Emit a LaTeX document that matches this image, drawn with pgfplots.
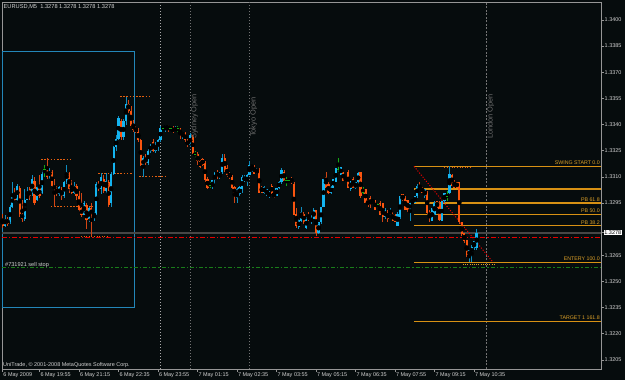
\documentclass[border=0pt]{standalone}
\usepackage{fontspec}
\setmainfont{Liberation Sans}
\usepackage{pgfplots}
\usepackage{pgfplotstable}
\pgfplotsset{compat=1.18}
\definecolor{bgc}{RGB}{6,12,13}
\definecolor{framec}{RGB}{150,150,150}
\definecolor{tickc}{RGB}{210,210,210}
\definecolor{bullc}{RGB}{20,180,240}
\definecolor{bearc}{RGB}{250,85,15}
\definecolor{bullw}{RGB}{15,140,190}
\definecolor{bearw}{RGB}{210,70,20}
\definecolor{dojic}{RGB}{20,170,20}
\definecolor{fibc}{RGB}{215,145,20}
\definecolor{fibt}{RGB}{220,160,40}
\definecolor{fracc}{RGB}{225,95,15}
\definecolor{boxc}{RGB}{35,135,185}
\definecolor{bidc}{RGB}{70,70,70}
\definecolor{slc}{RGB}{230,0,0}
\definecolor{pendc}{RGB}{25,125,25}
\definecolor{vlc}{RGB}{115,115,115}
\definecolor{sepc}{RGB}{170,170,170}
\definecolor{vtxt}{RGB}{110,110,110}

\pgfplotstableread{
i o h l c
0 1.3286 1.3289 1.3281 1.3282
1 1.3282 1.3288 1.3281 1.3286
2 1.3286 1.3287 1.3282 1.3283
3 1.3284 1.3294 1.3283 1.3293
4 1.3293 1.3307 1.3292 1.3300
5 1.3300 1.3304 1.3296 1.3297
6 1.3297 1.3306 1.3296 1.3305
7 1.3304 1.3305 1.3287 1.3289
8 1.3289 1.3297 1.3284 1.3286
9 1.3286 1.3303 1.3285 1.3297
10 1.3297 1.3304 1.3297 1.3300
11 1.3303 1.3304 1.3297 1.3299
12 1.3300 1.3311 1.3299 1.3309
13 1.3308 1.3310 1.3294 1.3295
14 1.3297 1.3305 1.3296 1.3304
15 1.3304 1.3311 1.3298 1.3299
16 1.3301 1.3314 1.3300 1.3312
17 1.3314 1.3317 1.3310 1.3314
18 1.3314 1.3321 1.3309 1.3310
19 1.3311 1.3315 1.3309 1.3313
20 1.3313 1.3314 1.3304 1.3305
21 1.3305 1.3309 1.3293 1.3303
22 1.3303 1.3305 1.3299 1.3300
23 1.3300 1.3305 1.3299 1.3304
24 1.3303 1.3304 1.3297 1.3299
25 1.3299 1.3308 1.3298 1.3307
26 1.3307 1.3317 1.3306 1.3313
27 1.3312 1.3313 1.3301 1.3303
28 1.3304 1.3308 1.3300 1.3301
29 1.3301 1.3307 1.3300 1.3305
30 1.3305 1.3306 1.3297 1.3299
31 1.3299 1.3302 1.3290 1.3291
32 1.3292 1.3301 1.3287 1.3288
33 1.3288 1.3296 1.3288 1.3295
34 1.3294 1.3295 1.3280 1.3285
35 1.3286 1.3293 1.3284 1.3292
36 1.3292 1.3295 1.3276 1.3288
37 1.3288 1.3290 1.3285 1.3289
38 1.3289 1.3307 1.3288 1.3306
39 1.3306 1.3308 1.3302 1.3303
40 1.3303 1.3312 1.3300 1.3310
41 1.3309 1.3311 1.3301 1.3302
42 1.3302 1.3312 1.3300 1.3308
43 1.3307 1.3308 1.3293 1.3294
44 1.3295 1.3313 1.3293 1.3312
45 1.3312 1.3328 1.3311 1.3327
46 1.3327 1.3334 1.3325 1.3332
47 1.3332 1.3345 1.3331 1.3344
48 1.3342 1.3343 1.3331 1.3333
49 1.3333 1.3343 1.3331 1.3342
50 1.3342 1.3356 1.3340 1.3352
51 1.3352 1.3354 1.3347 1.3348
52 1.3348 1.3351 1.3338 1.3339
53 1.3340 1.3343 1.3336 1.3337
54 1.3338 1.3339 1.3335 1.3336
55 1.3336 1.3338 1.3330 1.3331
56 1.3331 1.3332 1.3316 1.3317
57 1.3316 1.3322 1.3310 1.3321
58 1.3321 1.3323 1.3317 1.3318
59 1.3318 1.3326 1.3317 1.3325
60 1.3325 1.3329 1.3324 1.3328
61 1.3330 1.3332 1.3324 1.3325
62 1.3325 1.3330 1.3324 1.3328
63 1.3327 1.3332 1.3325 1.3331
64 1.3331 1.3339 1.3330 1.3338
65 1.3338 1.3339 1.3337 1.3338
66 1.3338 1.3340 1.3336 1.3339
67 1.3339 1.3340 1.3336 1.3338
68 1.3338 1.3339 1.3337 1.3338
69 1.3338 1.3339 1.3335 1.3336
70 1.3336 1.3339 1.3336 1.3338
71 1.3338 1.3339 1.3336 1.3338
72 1.3338 1.3338 1.3332 1.3334
73 1.3334 1.3336 1.3332 1.3335
74 1.3335 1.3336 1.3330 1.3331
75 1.3331 1.3332 1.3327 1.3328
76 1.3328 1.3335 1.3327 1.3334
77 1.3333 1.3334 1.3323 1.3324
78 1.3323 1.3325 1.3321 1.3323
79 1.3323 1.3324 1.3317 1.3319
80 1.3319 1.3320 1.3315 1.3316
81 1.3320 1.3321 1.3316 1.3317
82 1.3318 1.3319 1.3307 1.3308
83 1.3309 1.3310 1.3303 1.3304
84 1.3305 1.3307 1.3304 1.3305
85 1.3304 1.3308 1.3303 1.3308
86 1.3308 1.3313 1.3306 1.3312
87 1.3313 1.3314 1.3309 1.3310
88 1.3310 1.3313 1.3309 1.3312
89 1.3313 1.3323 1.3312 1.3321
90 1.3321 1.3323 1.3313 1.3314
91 1.3315 1.3317 1.3310 1.3311
92 1.3312 1.3313 1.3309 1.3310
93 1.3310 1.3311 1.3303 1.3304
94 1.3304 1.3305 1.3295 1.3300
95 1.3298 1.3304 1.3295 1.3303
96 1.3300 1.3305 1.3299 1.3304
97 1.3303 1.3311 1.3301 1.3310
98 1.3308 1.3311 1.3307 1.3310
99 1.3307 1.3312 1.3305 1.3311
100 1.3311 1.3319 1.3311 1.3317
101 1.3315 1.3317 1.3313 1.3317
102 1.3316 1.3317 1.3312 1.3312
103 1.3312 1.3315 1.3312 1.3314
104 1.3314 1.3315 1.3301 1.3301
105 1.3304 1.3305 1.3301 1.3301
106 1.3301 1.3305 1.3300 1.3304
107 1.3300 1.3303 1.3299 1.3303
108 1.3299 1.3302 1.3298 1.3301
109 1.3305 1.3306 1.3300 1.3301
110 1.3301 1.3301 1.3298 1.3299
111 1.3299 1.3304 1.3299 1.3304
112 1.3304 1.3308 1.3303 1.3307
113 1.3307 1.3315 1.3306 1.3314
114 1.3313 1.3314 1.3308 1.3308
115 1.3308 1.3310 1.3305 1.3308
116 1.3308 1.3309 1.3307 1.3308
117 1.3309 1.3310 1.3306 1.3307
118 1.3306 1.3307 1.3288 1.3288
119 1.3289 1.3292 1.3281 1.3282
120 1.3281 1.3286 1.3280 1.3285
121 1.3285 1.3293 1.3284 1.3290
122 1.3289 1.3290 1.3283 1.3284
123 1.3281 1.3287 1.3280 1.3286
124 1.3288 1.3290 1.3285 1.3285
125 1.3284 1.3288 1.3283 1.3287
126 1.3286 1.3292 1.3286 1.3291
127 1.3291 1.3291 1.3276 1.3278
128 1.3278 1.3284 1.3277 1.3284
129 1.3284 1.3293 1.3283 1.3293
130 1.3293 1.3309 1.3293 1.3309
131 1.3310 1.3313 1.3304 1.3304
132 1.3306 1.3307 1.3300 1.3301
133 1.3301 1.3305 1.3300 1.3304
134 1.3304 1.3309 1.3304 1.3309
135 1.3307 1.3315 1.3307 1.3315
136 1.3314 1.3321 1.3313 1.3314
137 1.3311 1.3316 1.3311 1.3316
138 1.3313 1.3313 1.3308 1.3308
139 1.3308 1.3310 1.3307 1.3310
140 1.3313 1.3314 1.3304 1.3304
141 1.3303 1.3308 1.3302 1.3308
142 1.3309 1.3310 1.3304 1.3304
143 1.3304 1.3307 1.3303 1.3307
144 1.3307 1.3313 1.3306 1.3312
145 1.3313 1.3313 1.3298 1.3299
146 1.3301 1.3304 1.3300 1.3301
147 1.3303 1.3303 1.3295 1.3295
148 1.3297 1.3297 1.3293 1.3294
149 1.3298 1.3299 1.3292 1.3294
150 1.3297 1.3297 1.3295 1.3295
151 1.3297 1.3297 1.3291 1.3291
152 1.3294 1.3295 1.3292 1.3294
153 1.3295 1.3296 1.3288 1.3288
154 1.3295 1.3295 1.3284 1.3287
155 1.3287 1.3292 1.3286 1.3291
156 1.3290 1.3291 1.3284 1.3286
157 1.3288 1.3292 1.3288 1.3291
158 1.3289 1.3290 1.3285 1.3285
159 1.3288 1.3289 1.3284 1.3284
160 1.3282 1.3290 1.3282 1.3289
161 1.3287 1.3299 1.3286 1.3299
162 1.3300 1.3300 1.3296 1.3297
163 1.3298 1.3299 1.3291 1.3291
164 1.3297 1.3297 1.3290 1.3291
165 1.3291 1.3296 1.3285 1.3295
166 1.3295 1.3297 1.3295 1.3297
167 1.3295 1.3299 1.3295 1.3299
168 1.3299 1.3306 1.3298 1.3305
169 1.3304 1.3307 1.3302 1.3303
170 1.3304 1.3304 1.3301 1.3301
171 1.3299 1.3303 1.3298 1.3303
172 1.3301 1.3302 1.3289 1.3289
173 1.3290 1.3291 1.3284 1.3287
174 1.3285 1.3292 1.3285 1.3292
175 1.3288 1.3296 1.3288 1.3295
176 1.3296 1.3296 1.3292 1.3293
177 1.3295 1.3296 1.3285 1.3285
178 1.3285 1.3296 1.3285 1.3296
179 1.3296 1.3301 1.3295 1.3301
180 1.3299 1.3302 1.3296 1.3299
181 1.3301 1.3316 1.3300 1.3312
182 1.3311 1.3312 1.3305 1.3305
183 1.3307 1.3308 1.3304 1.3304
184 1.3307 1.3307 1.3304 1.3304
185 1.3307 1.3307 1.3283 1.3284
186 1.3284 1.3284 1.3276 1.3277
187 1.3278 1.3278 1.3272 1.3273
188 1.3274 1.3274 1.3264 1.3265
189 1.3265 1.3268 1.3261 1.3268
190 1.3266 1.3271 1.3261 1.3270
191 1.3270 1.3274 1.3268 1.3273
192 1.3269 1.3280 1.3268 1.3278
}\candles

\pgfplotsset{
  wick/.style={only marks, mark=none, error bars/.cd, y dir=both, y explicit, error mark=none,
    error bar style={line width=0.7bp, color=#1}},
  body/.style={only marks, mark=none, error bars/.cd, y dir=both, y explicit, error mark=none,
    error bar style={line width=2.2bp, color=#1}},
}

\begin{document}
\begin{tikzpicture}
\fill[bgc] (-2bp,-11bp) rectangle (623bp,369bp);
\begin{axis}[
  at={(0,0)}, anchor=south west, scale only axis,
  width=599bp, height=367bp,
  xmin=-0.2, xmax=242.4, ymin=1.31998, ymax=1.34103,
  axis line style={draw=framec, line width=0.8bp},
  tick align=outside, major tick length=2.5bp,
  tick style={draw=framec, line width=0.6bp},
  xtick pos=left, ytick pos=right, yticklabel pos=right,
  xtick={0,15,31,47,63,79,95,111,127,143,159,175,191},
  xticklabels={6 May 2009, 6 May 19:55, 6 May 21:15, 6 May 22:35, 6 May 23:55, 7 May 01:15, 7 May 02:35, 7 May 03:55, 7 May 05:15, 7 May 06:35, 7 May 07:55, 7 May 09:15, 7 May 10:35},
  ytick={1.3205,1.3220,1.3235,1.3250,1.3265,1.3295,1.3310,1.3325,1.3340,1.3355,1.3370,1.3385,1.3400},
  scaled y ticks=false,
  yticklabel style={/pgf/number format/fixed, /pgf/number format/fixed zerofill, /pgf/number format/precision=4, /pgf/number format/assume math mode=true, anchor=west, inner sep=1bp},
  tick label style={font=\fontsize{5.5}{6}\selectfont, text=tickc},
  xticklabel style={anchor=north west, inner sep=0.5bp, xshift=0.3bp, yshift=-0.3bp},
  extra y ticks={1.3278},
  extra y tick style={yticklabel style={fill=white, text=black, inner sep=0.7bp}},
]
% box
\draw[boxc, line width=1.1bp] (axis cs:-0.2,1.3382) rectangle (axis cs:53.5,1.3235);
% vertical lines
\addplot[sepc, line width=0.8bp, dash pattern=on 1.5bp off 1.5bp] coordinates {(64,1.31998) (64,1.34103)};
\addplot[vlc, line width=0.8bp, dash pattern=on 1.5bp off 1.5bp] coordinates {(76,1.31998) (76,1.34103)};
\addplot[vlc, line width=0.8bp, dash pattern=on 1.5bp off 1.5bp] coordinates {(100,1.31998) (100,1.34103)};
\addplot[vlc, line width=1bp, dash pattern=on 2bp off 1.5bp] coordinates {(196,1.31998) (196,1.34103)};
% horizontal lines
\addplot[bidc, line width=1.7bp] coordinates {(-0.2,1.3278) (242.4,1.3278)};
\addplot[slc, line width=1.2bp, dash pattern=on 5bp off 2bp on 1.4bp off 2bp] coordinates {(-0.2,1.3275) (242.4,1.3275)};
\addplot[pendc, line width=1.2bp, dash pattern=on 4bp off 2bp on 1.4bp off 2bp] coordinates {(-0.2,1.3258) (242.4,1.3258)};
% fibonacci levels
\addplot[fibc, line width=1.2bp] coordinates {(166.7,1.3316) (242.4,1.3316)};
\addplot[fibc, line width=1.2bp] coordinates {(166.7,1.3303) (242.4,1.3303)};
\addplot[fibc, line width=1.2bp] coordinates {(166.7,1.3295) (242.4,1.3295)};
\addplot[fibc, line width=1.2bp] coordinates {(166.7,1.32885) (242.4,1.32885)};
\addplot[fibc, line width=1.2bp] coordinates {(166.7,1.3282) (242.4,1.3282)};
\addplot[fibc, line width=1.2bp] coordinates {(166.7,1.3261) (242.4,1.3261)};
\addplot[fibc, line width=1.2bp] coordinates {(166.7,1.3227) (242.4,1.3227)};
\addplot[slc, line width=1bp, dash pattern=on 1.1bp off 1.6bp] coordinates {(166.7,1.3316) (198.7,1.3261)};
% fractal levels
\addplot[fracc, line width=1bp, dash pattern=on 1.6bp off 1.6bp] coordinates {(15.6,1.3320) (28.5,1.3320)};
\addplot[fracc, line width=1bp, dash pattern=on 1.6bp off 1.6bp] coordinates {(19.6,1.3293) (36.6,1.3293)};
\addplot[fracc, line width=1bp, dash pattern=on 1bp off 1.6bp] coordinates {(31.8,1.3276) (42.7,1.3276)};
\addplot[fracc, line width=1bp, dash pattern=on 1.6bp off 1.6bp] coordinates {(38.7,1.3312) (52.4,1.3312)};
\addplot[fracc, line width=1bp, dash pattern=on 1.6bp off 1.6bp] coordinates {(47.6,1.3356) (60.5,1.3356)};
\addplot[fracc, line width=1bp, dash pattern=on 1.6bp off 1.6bp] coordinates {(55.3,1.3310) (66.6,1.3310)};
\addplot[fracc, line width=1bp, dash pattern=on 1bp off 1.6bp] coordinates {(178.8,1.33155) (189.7,1.33155)};
\addplot[fibt, line width=1bp, dash pattern=on 1bp off 1.2bp] coordinates {(186.5,1.3260) (199.5,1.3260)};
% candles: wicks
\addplot[restrict expr to domain={\thisrow{c}-\thisrow{o}}{0.00005:1}, wick=bullw]
  table[x=i, y expr={(\thisrow{h}+\thisrow{l})/2}, y error expr={(\thisrow{h}-\thisrow{l})/2}] {\candles};
\addplot[restrict expr to domain={\thisrow{c}-\thisrow{o}}{-1:-0.00005}, wick=bearw]
  table[x=i, y expr={(\thisrow{h}+\thisrow{l})/2}, y error expr={(\thisrow{h}-\thisrow{l})/2}] {\candles};
\addplot[restrict expr to domain={\thisrow{c}-\thisrow{o}}{-0.00005:0.00005}, wick=dojic]
  table[x=i, y expr={(\thisrow{h}+\thisrow{l})/2}, y error expr={(\thisrow{h}-\thisrow{l})/2}] {\candles};
% candles: bodies
\addplot[restrict expr to domain={\thisrow{c}-\thisrow{o}}{0.00005:1}, body=bullc]
  table[x=i, y expr={(\thisrow{o}+\thisrow{c})/2}, y error expr={(\thisrow{c}-\thisrow{o})/2}] {\candles};
\addplot[restrict expr to domain={\thisrow{c}-\thisrow{o}}{-1:-0.00005}, body=bearc]
  table[x=i, y expr={(\thisrow{o}+\thisrow{c})/2}, y error expr={(\thisrow{o}-\thisrow{c})/2}] {\candles};
\addplot[restrict expr to domain={\thisrow{c}-\thisrow{o}}{-0.00005:0.00005}, only marks, mark=-, mark size=1.2bp, dojic, mark options={line width=0.9bp}]
  table[x=i, y=c] {\candles};
% texts
\node[anchor=north west, inner sep=0, font=\fontsize{5.7}{6}\selectfont, text=tickc, xshift=1.5bp, yshift=-2bp] at (rel axis cs:0,1) {EURUSD,M5\ \ 1.3278 1.3278 1.3278 1.3278};
\node[anchor=base west, inner sep=0, font=\fontsize{5.5}{6}\selectfont, text=tickc, xshift=1bp, yshift=2.4bp] at (rel axis cs:0,0) {UniTrade, © 2001-2008 MetaQuotes Software Corp.};
\node[anchor=base west, inner sep=0, font=\fontsize{5.6}{6}\selectfont, text=tickc] at (axis cs:1.0,1.32585) {\#731921 sell stop};
\node[rotate=90, anchor=north east, inner sep=0.6bp, font=\fontsize{7.4}{8}\selectfont, text=vtxt] at (axis cs:76,1.3358) {Sydney Open};
\node[rotate=90, anchor=north east, inner sep=0.6bp, font=\fontsize{7.4}{8}\selectfont, text=vtxt] at (axis cs:100,1.3356) {Tokyo Open};
\node[rotate=90, anchor=north east, inner sep=0.6bp, font=\fontsize{7.4}{8}\selectfont, text=vtxt] at (axis cs:196,1.3358) {London Open};
\node[anchor=base east, inner sep=0, font=\fontsize{5.3}{6}\selectfont, text=fibt, xshift=-1bp, yshift=1.6bp] at (axis cs:242.4,1.3316) {SWING START 0.0};
\node[anchor=base east, inner sep=0, font=\fontsize{5.3}{6}\selectfont, text=fibt, xshift=-1bp, yshift=1.6bp] at (axis cs:242.4,1.3295) {PB 61.8};
\node[anchor=base east, inner sep=0, font=\fontsize{5.3}{6}\selectfont, text=fibt, xshift=-1bp, yshift=1.6bp] at (axis cs:242.4,1.32885) {PB 50.0};
\node[anchor=base east, inner sep=0, font=\fontsize{5.3}{6}\selectfont, text=fibt, xshift=-1bp, yshift=1.6bp] at (axis cs:242.4,1.3282) {PB 38.2};
\node[anchor=base east, inner sep=0, font=\fontsize{5.3}{6}\selectfont, text=fibt, xshift=-1bp, yshift=1.6bp] at (axis cs:242.4,1.3261) {ENTERY 100.0};
\node[anchor=base east, inner sep=0, font=\fontsize{5.3}{6}\selectfont, text=fibt, xshift=-1bp, yshift=1.6bp] at (axis cs:242.4,1.3227) {TARGET 1 161.8};
\end{axis}
\pgfresetboundingbox
\path[use as bounding box] (-2bp,-11bp) rectangle (623bp,369bp);
\end{tikzpicture}
\end{document}
